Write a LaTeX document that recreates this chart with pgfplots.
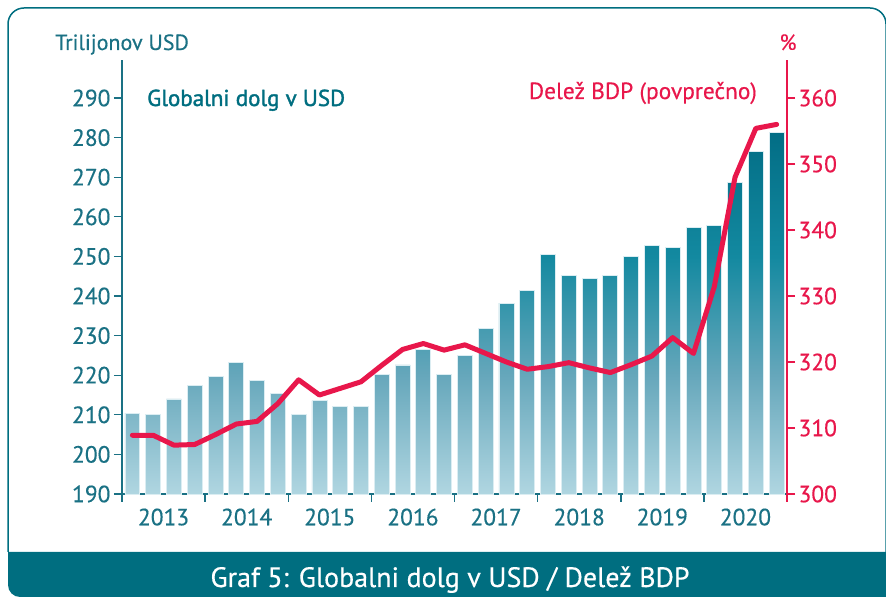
\documentclass[border=0pt]{standalone}
\usepackage{fontspec}
\setmainfont[FakeBold=0.4]{PT Sans}
\newfontfamily\hfont[FakeBold=1.6]{PT Sans}
\usepackage{pgfplots}
\pgfplotsset{compat=1.18}
\definecolor{tealt}{HTML}{1A7184}
\definecolor{band}{HTML}{006E80}
\definecolor{redl}{HTML}{E8174B}
\definecolor{cA}{HTML}{B0D6E1}
\definecolor{cB}{HTML}{66A7BB}
\definecolor{cC}{HTML}{1389A0}
\definecolor{cD}{HTML}{006A82}
\pgfdeclareverticalshading{barshade}{100bp}{color(0bp)=(cA); color(25bp)=(cA); color(40bp)=(cB); color(55bp)=(cC); color(72.5bp)=(cD); color(100bp)=(cD)}
\pgfplotstableread{
x y
0 210.4
1 210.1
2 214.0
3 217.3
4 219.6
5 223.3
6 218.7
7 215.3
8 210.2
9 213.6
10 212.1
11 212.1
12 220.1
13 222.6
14 226.6
15 220.2
16 224.9
17 231.8
18 238.2
19 241.5
20 250.5
21 245.2
22 244.5
23 245.2
24 250.0
25 252.8
26 252.3
27 257.3
28 257.8
29 268.6
30 276.6
31 281.3
}\debt
\pgfplotstableread{
x y
0 308.9
1 308.9
2 307.4
3 307.5
4 309.0
5 310.6
6 311.0
7 313.7
8 317.3
9 315.0
10 316.0
11 317.0
12 319.5
13 321.9
14 322.8
15 321.8
16 322.6
17 321.3
18 320.0
19 318.9
20 319.3
21 319.9
22 319.1
23 318.4
24 319.6
25 320.9
26 323.7
27 321.3
28 331.4
29 348.0
30 355.4
31 356.0
}\share
\newcommand{\fs}{\fontsize{23.5}{27}\selectfont}
\begin{document}
\begin{tikzpicture}[x=1pt,y=1pt]
\useasboundingbox (0,0) rectangle (886,599);
\begin{scope}
\clip (0,0) rectangle (886,599);
\fill[band] (8,47) -- (8,14) arc[start angle=180,end angle=270,radius=12] -- (900,2) -- (900,47) -- cycle;
\draw[band, line width=1.5pt] (8,47) -- (8,575) arc[start angle=180,end angle=90,radius=16] -- (870,591) arc[start angle=90,end angle=0,radius=16] -- (886,47);
\end{scope}
\node[anchor=base west, text=tealt, inner sep=0] at (55,549) {\fontsize{22}{26}\selectfont Trilijonov USD};
\node[anchor=base, text=redl, inner sep=0] at (788,549) {\fontsize{22}{26}\selectfont \%};
\node[anchor=base west, text=band, inner sep=0] at (147,493) {\fontsize{23}{27}\selectfont\hfont Globalni dolg v USD};
\node[anchor=base east, text=redl, inner sep=0] at (757,500) {\fontsize{23.4}{27}\selectfont Delež BDP (povprečno)};
\node[anchor=base, text=white, inner sep=0] at (450,12) {\fontsize{28}{32}\selectfont Graf 5: Globalni dolg v USD / Delež BDP};
\begin{axis}[
  at={(122pt,105pt)}, anchor=south west, scale only axis,
  width=665pt, height=434pt,
  xmin=-0.5, xmax=31.5, ymin=190, ymax=299.6,
  axis x line*=bottom, axis y line*=left,
  axis line style={tealt, line width=1.8pt},
  tick style={tealt, line width=1.3pt},
  tick align=outside, major tick length=8pt,
  ytick={190,200,...,290},
  xtick={-0.5,3.5,...,31.5},
  x tick label as interval,
  xticklabels={2013,2014,2015,2016,2017,2018,2019,2020},
  xticklabel style={yshift=-3pt},
  /pgf/number format/assume math mode=true,
  /pgf/number format/1000 sep={},
  ticklabel style={text=tealt, font=\fs},
  clip=false,
]
\addplot[ybar, bar width=0.72, draw=white!55!cA, line width=0.8pt,
  path picture={\shade[shading=barshade, path picture={}] (axis cs:-0.5,190) rectangle (axis cs:31.5,290);}]
  table[x=x,y=y] {\debt};
\end{axis}
\begin{axis}[
  at={(122pt,105pt)}, anchor=south west, scale only axis,
  width=665pt, height=434pt,
  xmin=-0.5, xmax=31.5, ymin=300, ymax=365.76,
  axis x line=none, axis y line*=right,
  axis line style={redl, line width=1.8pt},
  tick style={redl, line width=1.3pt},
  tick align=outside, major tick length=8pt,
  ytick={300,310,...,360},
  /pgf/number format/assume math mode=true,
  ticklabel style={text=redl, font=\fs},
  clip=false,
]
\addplot[redl, line width=5pt, line join=round, line cap=round, mark=none] table[x=x,y=y] {\share};
\end{axis}
\foreach \k in {1,...,7} {
  \draw[tealt, line width=1.5pt] ({122+83.125*\k},105) -- ++(0,-8);
}
\draw[tealt, line width=1.8pt] (122,106) -- (122,97);
\draw[redl, line width=1.8pt] (787,106) -- (787,97);
\end{tikzpicture}
\end{document}
